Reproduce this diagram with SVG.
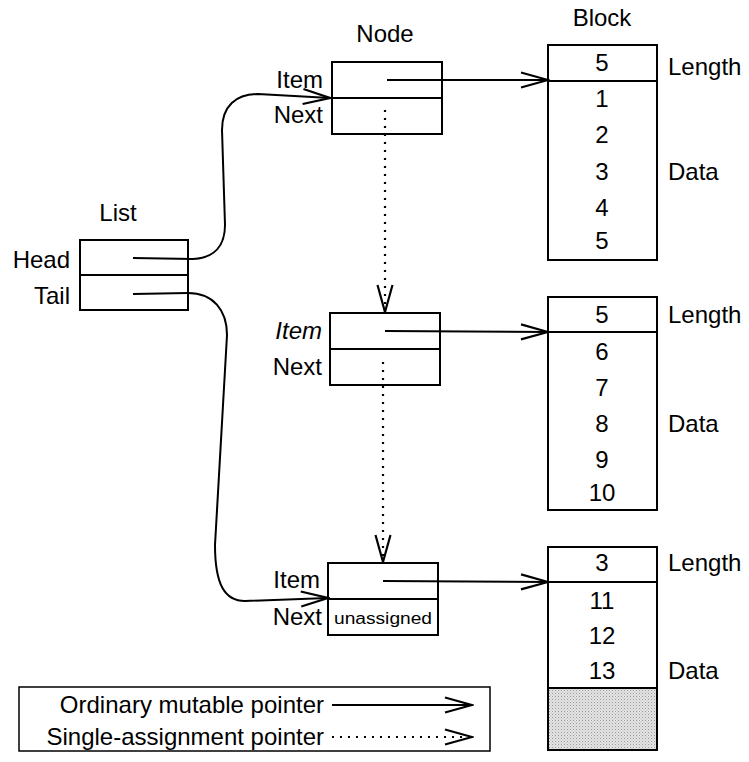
<svg xmlns="http://www.w3.org/2000/svg" width="749" height="762" viewBox="0 0 749 762">
  <style>
    text { font-family: "Liberation Sans", Arial, sans-serif; font-size: 24px; fill: #000; }
    .mid { text-anchor: middle; }
    .end { text-anchor: end; }
    .ital { font-style: italic; }
    .small { font-size: 16px; }
    .box { fill: #fff; stroke: #000; stroke-width: 2; }
    .sep { stroke: #000; stroke-width: 2; fill: none; }
    .ptr { fill: none; stroke: #000; stroke-width: 2; marker-end: url(#open); }
    .once { fill: none; stroke: #000; stroke-width: 2.2; stroke-dasharray: 2 6; marker-end: url(#open); }
  </style>
  <defs>
    <marker id="open" viewBox="-30 -10 32 20" markerWidth="32" markerHeight="20" refX="0" refY="0" orient="auto" markerUnits="userSpaceOnUse">
      <path d="M-27,-7.5 L0,0 L-27,7.5" fill="none" stroke="#000" stroke-width="2.2"/>
    </marker>
    <pattern id="stipple" width="3" height="3" patternUnits="userSpaceOnUse">
      <rect width="3" height="3" fill="#e4e4e4"/>
      <rect width="1" height="1" fill="#9a9a9a"/>
      <rect x="1.5" y="1.5" width="1" height="1" fill="#b5b5b5"/>
    </pattern>
  </defs>

  <!-- List record -->
  <g id="list">
    <text class="mid" x="118" y="221">List</text>
    <rect class="box" x="80" y="240" width="108" height="70"/>
    <line class="sep" x1="80" y1="275" x2="188" y2="275"/>
    <text class="end" x="70" y="268">Head</text>
    <text class="end" x="70" y="304">Tail</text>
  </g>

  <!-- First node -->
  <g id="node1">
    <text class="mid" x="385" y="42">Node</text>
    <rect class="box" x="332" y="62" width="110" height="72"/>
    <line class="sep" x1="332" y1="98" x2="442" y2="98"/>
    <text class="end" x="323" y="88">Item</text>
    <text class="end" x="323" y="123">Next</text>
  </g>

  <!-- Second node -->
  <g id="node2">
    <rect class="box" x="330" y="313" width="110" height="72"/>
    <line class="sep" x1="330" y1="349" x2="440" y2="349"/>
    <text class="end ital" x="322" y="339">Item</text>
    <text class="end" x="322" y="375">Next</text>
  </g>

  <!-- Third node (tail) -->
  <g id="node3">
    <rect class="box" x="328" y="563" width="110" height="72"/>
    <line class="sep" x1="328" y1="599" x2="438" y2="599"/>
    <text class="end" x="320" y="588">Item</text>
    <text class="end" x="322" y="625">Next</text>
    <text class="mid small" x="383" y="624" textLength="98" lengthAdjust="spacingAndGlyphs">unassigned</text>
  </g>

  <!-- Block 1 -->
  <g id="block1">
    <text class="mid" x="602" y="26">Block</text>
    <rect class="box" x="548" y="45" width="109" height="215"/>
    <line class="sep" x1="548" y1="81" x2="657" y2="81"/>
    <text class="mid" x="602" y="71">5</text>
    <text class="mid" x="602" y="107">1</text>
    <text class="mid" x="602" y="143">2</text>
    <text class="mid" x="602" y="180">3</text>
    <text class="mid" x="602" y="216">4</text>
    <text class="mid" x="602" y="249">5</text>
    <text x="668" y="75">Length</text>
    <text x="668" y="180">Data</text>
  </g>

  <!-- Block 2 -->
  <g id="block2">
    <rect class="box" x="548" y="297" width="109" height="213"/>
    <line class="sep" x1="548" y1="332" x2="657" y2="332"/>
    <text class="mid" x="602" y="323">5</text>
    <text class="mid" x="602" y="360">6</text>
    <text class="mid" x="602" y="396">7</text>
    <text class="mid" x="602" y="432">8</text>
    <text class="mid" x="602" y="468">9</text>
    <text class="mid" x="602" y="501">10</text>
    <text x="668" y="323">Length</text>
    <text x="668" y="432">Data</text>
  </g>

  <!-- Block 3, partly filled -->
  <g id="block3">
    <rect x="548" y="688" width="109" height="62" fill="url(#stipple)"/>
    <rect x="548" y="547" width="109" height="203" fill="none" stroke="#000" stroke-width="2"/>
    <line class="sep" x1="548" y1="582" x2="657" y2="582"/>
    <line class="sep" x1="548" y1="688" x2="657" y2="688"/>
    <text class="mid" x="602" y="571">3</text>
    <text class="mid" x="602" y="609">11</text>
    <text class="mid" x="602" y="644">12</text>
    <text class="mid" x="602" y="679">13</text>
    <text x="668" y="571">Length</text>
    <text x="668" y="679">Data</text>
  </g>

  <!-- Pointers -->
  <g id="connectors">
    <path class="ptr" d="M133,258 L193,259 C215,258 225,245 225,225 L222,130 C222,106 236,94 258,94 L330,98"/>
    <path class="ptr" d="M133,294 L188,293 C213,293 227,310 227,335 L215,545 C215,585 225,601 245,601 L328,598"/>
    <path class="ptr" d="M387,80 L548,80"/>
    <path class="ptr" d="M385,331 L548,332"/>
    <path class="ptr" d="M383,581 L548,582"/>
    <path class="once" d="M385,110 L385,312"/>
    <path class="once" d="M383,362 L383,562"/>
  </g>

  <!-- Legend -->
  <g id="legend">
    <rect x="19" y="687" width="471" height="64" fill="none" stroke="#000" stroke-width="1.5"/>
    <text class="end" x="324" y="713">Ordinary mutable pointer</text>
    <text class="end" x="324" y="745">Single-assignment pointer</text>
    <path class="ptr" d="M332,705 L472,705"/>
    <path class="once" d="M332,737 L472,737"/>
  </g>
</svg>
